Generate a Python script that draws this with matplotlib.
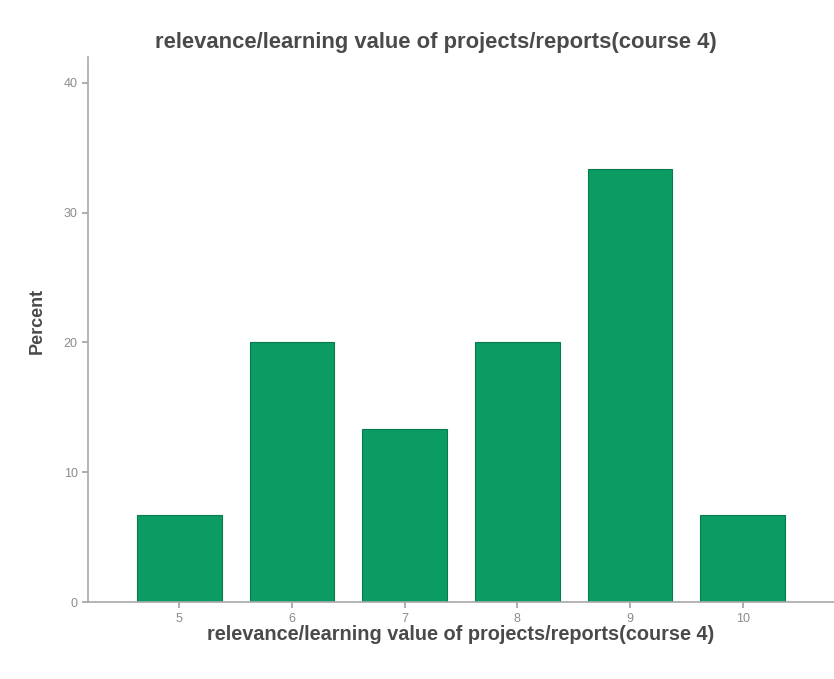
import numpy as np
import matplotlib.pyplot as plt

plt.rcParams['font.family'] = ['Liberation Sans', 'DejaVu Sans']

categories = ['5', '6', '7', '8', '9', '10']
percent = [6.67, 20.0, 13.33, 20.0, 33.33, 6.67]
yticks = [0, 10, 20, 30, 40]

fig = plt.figure(figsize=(8.34, 6.79), dpi=100)
ax = fig.add_axes([0.1055, 0.1134, 0.8945, 0.8027])

x = np.arange(len(categories))
ax.bar(x, percent, width=0.75, color='#0a9c63', edgecolor='#087a4e', linewidth=0.8, zorder=2)

ax.set_xlim(-0.81, 5.81)
ax.set_ylim(0, 42)
ax.set_xticks(x)
ax.set_xticklabels(categories)
ax.set_yticks(yticks)

for s in ['top', 'right']:
    ax.spines[s].set_visible(False)
for s in ['left', 'bottom']:
    ax.spines[s].set_color('#a8a8a8')
    ax.spines[s].set_linewidth(1.2)

ax.tick_params(axis='both', colors='#a0a0a0', labelcolor='#8c8c8c', labelsize=9,
               length=4, width=1.2, direction='out')
ax.tick_params(axis='x', pad=4)

ax.set_ylabel('Percent', fontsize=13, fontweight='bold', color='#4a4a4a')
ax.yaxis.set_label_coords(-0.056, 0.515)
ax.set_xlabel('relevance/learning value of projects/reports(course 4)', fontsize=14.3,
              fontweight='bold', color='#4a4a4a', labelpad=0)
fig.text(0.523, 0.938, 'relevance/learning value of projects/reports(course 4)',
         ha='center', va='center', fontsize=15.8, fontweight='bold', color='#4a4a4a')

fig.savefig('out.png', dpi=100)
